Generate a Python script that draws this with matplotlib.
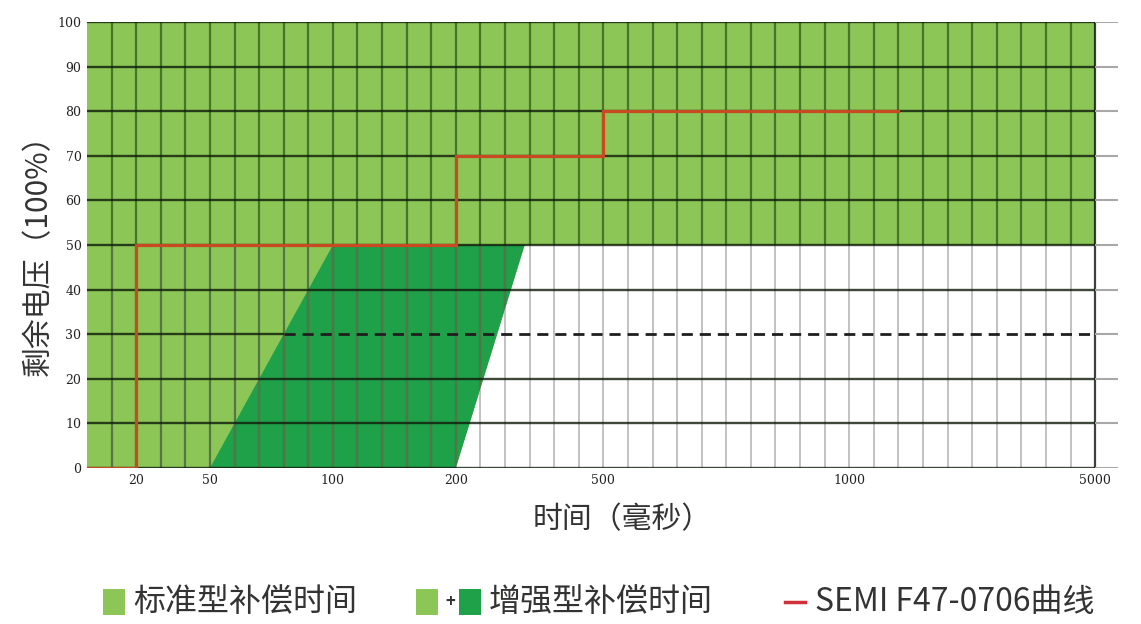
import numpy as np
import matplotlib
matplotlib.use("Agg")
import matplotlib.pyplot as plt
from matplotlib.patches import Polygon, Rectangle
from matplotlib.lines import Line2D

plt.rcParams['font.family'] = ['Noto Sans CJK SC', 'DejaVu Sans']

# x axis is a piecewise scale: each tick value sits on a fixed grid column
tick_ms = [0, 20, 50, 100, 200, 500, 1000, 5000]
tick_col = [0, 2, 5, 10, 15, 21, 31, 41]
x_ticks = [20, 50, 100, 200, 500, 1000, 5000]
y_ticks = list(range(0, 101, 10))

# standard compensation region (light green), enhanced region (dark green)
std_x = [0, 200, 340, 5000, 5000, 0]
std_y = [0, 0, 50, 50, 100, 100]
enh_x = [50, 200, 340, 100]
enh_y = [0, 0, 50, 50]

# SEMI F47-0706 curve
semi_x = [0, 20, 20, 200, 200, 500, 500, 1800]
semi_y = [0, 0, 50, 50, 70, 70, 80, 80]

light_green = '#8cc656'
dark_green = '#1fa14a'
red = '#c84a22'


def fwd(x):
    x = np.asarray(x, dtype=float)
    return np.where(x > 5000, 41 + (x - 5000) / 400.0, np.interp(x, tick_ms, tick_col))


def inv(u):
    u = np.asarray(u, dtype=float)
    return np.where(u > 41, 5000 + (u - 41) * 400.0, np.interp(u, tick_col, tick_ms))


fig = plt.figure(figsize=(11.41, 6.24), dpi=100)
ax = fig.add_axes([87 / 1141, 1 - 468 / 624, (1118 - 87) / 1141, (468 - 22) / 624])
ax.set_xscale('function', functions=(fwd, inv))
x_max = float(inv(41.93))
ax.set_xlim(0, x_max)
ax.set_ylim(0, 100)

# filled regions
std_patch = Polygon(np.column_stack([std_x, std_y]), closed=True,
                    facecolor=light_green, edgecolor='none', zorder=1)
ax.add_patch(std_patch)
ax.add_patch(Polygon(np.column_stack([enh_x, enh_y]), closed=True,
                     facecolor=dark_green, edgecolor='none', zorder=2))

# vertical grid: light gray in the white part, dark green inside the green part
grid_ms = inv(np.arange(1, 41))
ax.vlines(grid_ms, 0, 50, color='#c2c2c2', lw=1.4, zorder=3)
dark_v = ax.vlines(grid_ms, 0, 100, color='#2a5418', alpha=0.7, lw=1.6, zorder=4)
dark_v.set_clip_path(std_patch)
ax.vlines(5000, 0, 100, color='black', alpha=0.75, lw=1.6, zorder=4)

# horizontal grid
x30 = float(inv(fwd(50) + (fwd(100) - fwd(50)) * 0.6))
for y in y_ticks:
    x_end = x30 if y == 30 else 5000
    ax.hlines(y, 0, x_end, color='#0e1a0a', alpha=0.8, lw=1.7, zorder=5)
    ax.hlines(y, 5000, x_max, color='#a8a8a8', lw=1.5, zorder=5)
ax.hlines(30, x30, 5000, color='#1e1e1e', lw=2.0, linestyles=(0, (4, 2.5)), zorder=5)

ax.plot(semi_x, semi_y, color=red, lw=2.3, zorder=6, solid_joinstyle='miter')

for s in ax.spines.values():
    s.set_visible(False)
ax.set_xticks(x_ticks)
ax.set_xticklabels([str(v) for v in x_ticks])
ax.set_yticks(y_ticks)
ax.set_yticklabels([str(v) for v in y_ticks])
ax.tick_params(length=0, labelsize=9, labelcolor='#222222', pad=4)
for lab in ax.get_xticklabels() + ax.get_yticklabels():
    lab.set_family('DejaVu Serif')

fig.text(622 / 1141, 1 - 520 / 624, '时间（毫秒）', fontsize=21.5, color='#333333',
         ha='center', va='center')
fig.text(38 / 1141, 1 - 248 / 624, '剩余电压（100%）', fontsize=21.5, color='#333333',
         ha='center', va='center', rotation=90)

# legend drawn by hand in pixel positions
W, H = 1141.0, 624.0
ly = 602


def box(x0, color):
    fig.patches.append(Rectangle((x0 / W, (H - ly - 13) / H), 22 / W, 26 / H,
                                 facecolor=color, edgecolor='none',
                                 transform=fig.transFigure, figure=fig))


box(103, light_green)
fig.text(133 / W, 1 - ly / H, '标准型补偿时间', fontsize=23, color='#333333', va='center')
box(416, light_green)
fig.text(450 / W, 1 - ly / H, '+', fontsize=12, color='#333333', va='center', ha='center',
         fontweight='bold')
box(459, dark_green)
fig.text(489 / W, 1 - ly / H, '增强型补偿时间', fontsize=23, color='#333333', va='center')
fig.lines.append(Line2D([785 / W, 805 / W], [1 - ly / H, 1 - ly / H], color='#d0303a',
                        lw=2.5, transform=fig.transFigure, figure=fig))
fig.text(815 / W, 1 - ly / H, 'SEMI F47-0706曲线', fontsize=23, color='#333333', va='center')

fig.savefig('out.png', dpi=100)
